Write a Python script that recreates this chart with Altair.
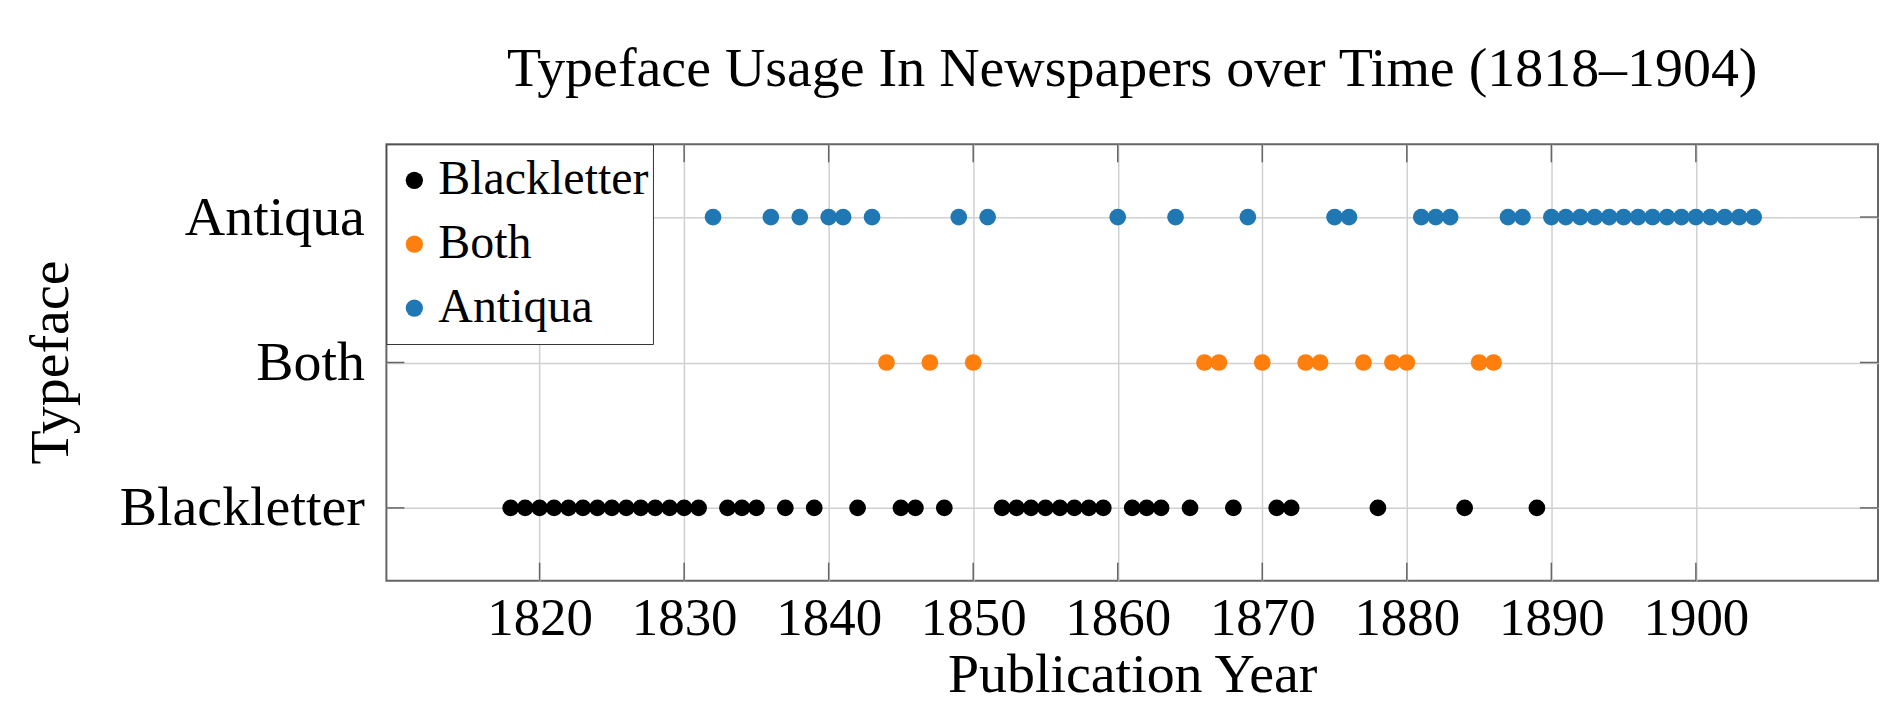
import altair as alt
import pandas as pd

# ---- data ----
categories = ["Blackletter", "Both", "Antiqua"]
colors = ["#000000", "#ff7f0e", "#1f77b4"]

blackletter_years = [1818, 1819, 1820, 1821, 1822, 1823, 1824, 1825, 1826, 1827,
                     1828, 1829, 1830, 1831, 1833, 1834, 1835, 1837, 1839, 1842,
                     1845, 1846, 1848, 1852, 1853, 1854, 1855, 1856, 1857, 1858,
                     1859, 1861, 1862, 1863, 1865, 1868, 1871, 1872, 1878, 1884,
                     1889]
both_years = [1844, 1847, 1850, 1866, 1867, 1870, 1873, 1874, 1877, 1879, 1880,
              1885, 1886]
antiqua_years = [1832, 1836, 1838, 1840, 1841, 1843, 1849, 1851, 1860, 1864,
                 1869, 1875, 1876, 1881, 1882, 1883, 1887, 1888, 1890, 1891,
                 1892, 1893, 1894, 1895, 1896, 1897, 1898, 1899, 1900, 1901,
                 1902, 1903, 1904]

tick_years = [1820, 1830, 1840, 1850, 1860, 1870, 1880, 1890, 1900]
x_domain = [1809.4, 1912.6]

rows = []
for name, years in zip(categories, [blackletter_years, both_years, antiqua_years]):
    for y in years:
        rows.append({"year": y, "typeface": name})
df = pd.DataFrame(rows)
xt = pd.DataFrame({"year": tick_years})
yt = pd.DataFrame({"typeface": categories})

FONT = "Liberation Serif"
W, H = 1494, 437
TICK = 18

x_enc = alt.X(
    "year:Q",
    scale=alt.Scale(domain=x_domain, nice=False, zero=False),
    axis=alt.Axis(values=tick_years, format="d", title="Publication Year",
                  labelFont=FONT, titleFont=FONT, labelColor="#000000",
                  titleColor="#000000", titleFontWeight="normal", labelLimit=0,
                  labelFontSize=53, labelPadding=54, labelBaseline="alphabetic",
                  titleFontSize=56, titleBaseline="bottom", titleY=123,
                  titleX=W / 2, titleAlign="center"),
)
y_enc = alt.Y(
    "typeface:N",
    sort=["Antiqua", "Both", "Blackletter"],
    scale=alt.Scale(type="point", padding=0.5),
    axis=alt.Axis(title="Typeface", labelFont=FONT, titleFont=FONT,
                  labelColor="#000000", titleColor="#000000",
                  titleFontWeight="normal", labelLimit=0,
                  labelFontSize=56, labelPadding=22,
                  titleFontSize=56, titleAngle=270, titleBaseline="alphabetic",
                  titleX=-319, titleY=218, titleAlign="center"),
)

points = alt.Chart(df).mark_circle(size=280, opacity=1).encode(
    x=x_enc,
    y=y_enc,
    color=alt.Color(
        "typeface:N",
        scale=alt.Scale(domain=categories, range=colors),
        legend=alt.Legend(title=None, orient="none", legendX=0, legendY=0,
                          strokeColor="#333333", fillColor="#ffffff", padding=4,
                          labelFont=FONT, labelFontSize=48, labelOffset=0,
                          labelLimit=0, labelColor="#000000", clipHeight=64,
                          symbolType="circle", symbolSize=300,
                          symbolStrokeWidth=0, symbolOpacity=1, rowPadding=-5.5),
    ),
)

tick_style = dict(color="#666666", strokeWidth=1.5)
bottom_ticks = alt.Chart(xt).mark_rule(**tick_style).encode(
    x=x_enc, y=alt.value(H), y2=alt.value(H - TICK))
top_ticks = alt.Chart(xt).mark_rule(**tick_style).encode(
    x=x_enc, y=alt.value(0), y2=alt.value(TICK))
left_ticks = alt.Chart(yt).mark_rule(**tick_style).encode(
    y=y_enc, x=alt.value(0), x2=alt.value(TICK))
right_ticks = alt.Chart(yt).mark_rule(**tick_style).encode(
    y=y_enc, x=alt.value(W - TICK), x2=alt.value(W))

chart = alt.layer(bottom_ticks, top_ticks, left_ticks, right_ticks, points).properties(
    width=W,
    height=H,
    background="#ffffff",
    autosize=alt.AutoSizeParams(type="none"),
    padding={"left": 379, "top": 136, "right": 4, "bottom": 124},
    title=alt.TitleParams(
        "Typeface Usage In Newspapers over Time (1818–1904)",
        anchor="middle", frame="group", baseline="alphabetic", offset=2,
        fontSize=56, font=FONT, fontWeight="normal", color="#000000"),
).configure_view(
    stroke="#666666", strokeWidth=2
).configure_axis(
    labelFont=FONT, titleFont=FONT, labelColor="#000000", titleColor="#000000",
    titleFontWeight="normal", domain=False, ticks=False, tickSize=0,
    gridColor="#d0d0d0", gridWidth=1.5, grid=True,
)

chart.save("out.html", embed_options={"renderer": "svg", "actions": False})
